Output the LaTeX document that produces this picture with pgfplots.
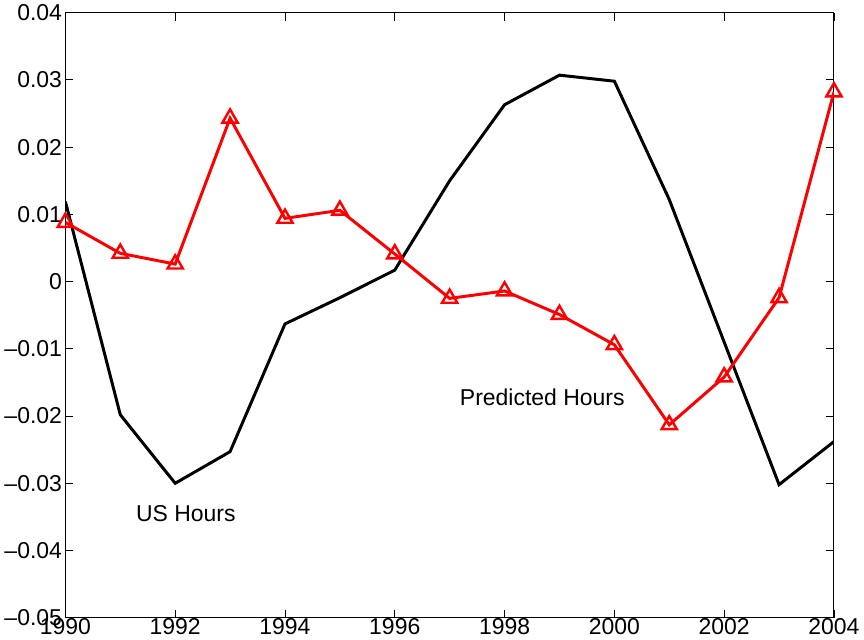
\documentclass[border=0pt]{standalone}
\usepackage{pgfplots}
\pgfplotsset{compat=1.18}
\usepackage{fontspec}
\setmainfont{Liberation Sans}
\begin{document}
\begin{tikzpicture}
\begin{axis}[
  scale only axis,
  width=569pt, height=448pt,
  xmin=1990, xmax=2004, ymin=-0.05, ymax=0.04,
  xtick={1990,1992,...,2004},
  ytick={-0.05,-0.04,...,0.04},
  scaled y ticks=false,
  yticklabels={\textendash0.05,\textendash0.04,\textendash0.03,\textendash0.02,\textendash0.01,0,0.01,0.02,0.03,0.04},
  /pgf/number format/assume math mode=true,
  xticklabel style={/pgf/number format/1000 sep={}},
  tick align=inside,
  major tick length=6pt,
  tick style={black, line width=0.6pt},
  axis line style={line width=0.7pt},
  font=\fontsize{17}{20}\selectfont,
  ticklabel style={font=\fontsize{17}{20}\selectfont},
  xticklabel style={yshift=3pt},
  yticklabel style={xshift=1pt},
]
\addplot[black, line width=2.2pt] coordinates {
(1990,0.0119) (1991,-0.0198) (1992,-0.0300) (1993,-0.0253) (1994,-0.0063)
(1995,-0.0024) (1996,0.0017) (1997,0.0150) (1998,0.0263) (1999,0.0307)
(2000,0.0298) (2001,0.0122) (2002,-0.0090) (2003,-0.0302) (2004,-0.0238)};
\addplot[red, line width=2.2pt, mark=triangle, mark size=6.5pt, mark options={line width=1.8pt}] coordinates {
(1990,0.0088) (1991,0.0042) (1992,0.0026) (1993,0.0243) (1994,0.0094)
(1995,0.0106) (1996,0.0041) (1997,-0.0025) (1998,-0.0014) (1999,-0.0049)
(2000,-0.0094) (2001,-0.0213) (2002,-0.0142) (2003,-0.0024) (2004,0.0282)};
\node[anchor=west] at (axis cs:1997.1,-0.0172) {Predicted Hours};
\node[anchor=west] at (axis cs:1991.2,-0.0345) {US Hours};
\end{axis}
\end{tikzpicture}
\end{document}
